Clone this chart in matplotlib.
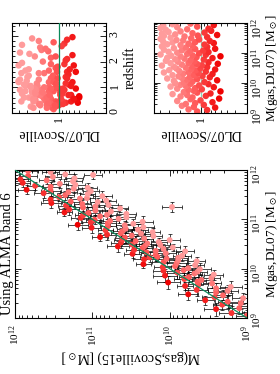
import matplotlib
matplotlib.use("Agg")
import matplotlib.pyplot as plt
import numpy as np
from matplotlib.colors import LinearSegmentedColormap
from matplotlib.ticker import MultipleLocator, NullFormatter

plt.rcParams['font.family'] = ['Liberation Serif', 'DejaVu Serif']
plt.rcParams['mathtext.fontset'] = 'stix'

# log10 M(gas, DL07) per galaxy
log_m_dl07 = [
    9.05, 9.10, 9.12, 9.18, 9.20, 9.24,
    9.27, 9.30, 9.33, 9.36, 9.40, 9.42, 9.46, 9.48,
    9.52, 9.55, 9.57, 9.60, 9.63, 9.65, 9.68, 9.70, 9.72, 9.74,
    9.77, 9.79, 9.81, 9.83, 9.86, 9.88, 9.90, 9.92, 9.94, 9.96, 9.97, 9.99,
    10.01, 10.03, 10.05, 10.07, 10.09, 10.11, 10.13, 10.15, 10.17, 10.19, 10.20, 10.22, 10.23, 10.24,
    10.26, 10.28, 10.30, 10.31, 10.33, 10.35, 10.36, 10.38, 10.40, 10.42, 10.43, 10.45, 10.46, 10.48, 10.49,
    10.51, 10.53, 10.54, 10.56, 10.58, 10.59, 10.61, 10.63, 10.64, 10.66, 10.67, 10.69, 10.71, 10.72, 10.74,
    10.76, 10.78, 10.79, 10.81, 10.83, 10.84, 10.86, 10.88, 10.89, 10.91, 10.92, 10.94, 10.95, 10.97, 10.99,
    11.01, 11.03, 11.04, 11.06, 11.08, 11.09, 11.11, 11.13, 11.14, 11.16, 11.18, 11.20, 11.22, 11.24,
    11.26, 11.28, 11.29, 11.31, 11.33, 11.35, 11.36, 11.38, 11.40, 11.42, 11.43, 11.45, 11.47, 11.49,
    11.51, 11.53, 11.55, 11.57, 11.58, 11.60, 11.62, 11.64, 11.66, 11.68, 11.70, 11.72, 11.74,
    11.77, 11.79, 11.81, 11.83, 11.86, 11.88, 11.91, 11.93, 11.96, 11.98,
    11.90, 11.25,
]

# log10 (DL07 / Scoville)
log_ratio = [
    0.05, -0.10, 0.18, -0.22, 0.10, 0.28,
    -0.05, 0.22, 0.08, -0.18, 0.35, 0.00, 0.15, -0.28,
    0.12, 0.30, -0.08, 0.20, 0.42, -0.15, 0.05, 0.25, -0.30, 0.10,
    0.18, -0.02, 0.35, 0.08, -0.20, 0.45, 0.22, 0.02, 0.30, -0.12, 0.15, 0.38,
    0.25, -0.06, 0.12, 0.40, -0.25, 0.20, 0.05, 0.50, 0.28, -0.14, 0.16, 0.33, -0.03, 0.08,
    0.42, 0.10, -0.18, 0.26, 0.03, 0.55, 0.18, -0.08, 0.32, 0.07, 0.47, -0.22, 0.14, 0.36, 0.00,
    0.22, -0.10, 0.40, 0.12, 0.58, -0.02, 0.28, 0.05, -0.26, 0.45, 0.18, -0.12, 0.34, 0.09, 0.52,
    0.15, -0.05, 0.38, 0.24, -0.18, 0.50, 0.06, 0.30, -0.30, 0.44, 0.12, -0.08, 0.60, 0.20, 0.02,
    0.35, -0.12, 0.48, 0.16, -0.04, 0.28, 0.55, 0.08, -0.22, 0.40, 0.22, -0.10, 0.58, 0.12,
    0.30, -0.06, 0.50, 0.18, -0.20, 0.42, 0.08, 0.56, -0.14, 0.26, 0.36, 0.02, 0.60, 0.14,
    0.45, -0.10, 0.24, 0.55, 0.04, -0.25, 0.38, 0.58, 0.12, -0.06, 0.48, 0.30, -0.16,
    0.52, 0.20, -0.12, 0.60, 0.35, 0.05, 0.56, -0.20, 0.42, 0.15,
    0.91, 1.28,
]

redshift = [
    0.25, 0.40, 0.30, 0.55, 0.20, 0.35,
    0.45, 0.60, 0.15, 0.70, 0.50, 0.30, 0.85, 0.40,
    0.55, 0.35, 0.90, 0.65, 0.25, 1.10, 0.45, 0.75, 0.60, 1.30,
    0.50, 0.80, 0.95, 0.30, 1.20, 0.60, 1.55, 0.40, 0.70, 2.10, 1.00, 0.20,
    0.65, 0.35, 1.35, 0.80, 0.95, 0.50, 1.75, 1.05, 0.30, 0.70, 2.40, 1.15, 0.55, 0.85,
    0.60, 1.25, 0.45, 0.90, 1.60, 0.75, 0.40, 2.70, 1.05, 0.25, 1.40, 1.85, 0.65, 2.20, 0.95,
    0.55, 1.15, 0.85, 0.35, 1.30, 0.70, 2.55, 1.00, 0.50, 1.70, 0.20, 2.85, 0.90, 1.45, 0.60,
    1.20, 0.75, 0.45, 2.00, 1.05, 0.85, 0.30, 1.55, 0.65, 2.30, 0.95, 1.90, 1.25, 0.50, 1.35,
    0.80, 1.60, 1.10, 0.40, 2.60, 0.70, 1.95, 1.20, 0.55, 2.90, 1.00, 1.40, 0.90, 2.15,
    1.30, 0.85, 1.65, 0.60, 2.25, 1.05, 2.75, 0.45, 1.50, 2.45, 0.95, 1.80, 1.20, 0.70,
    1.45, 2.05, 0.80, 2.65, 1.15, 1.60, 0.55, 2.35, 1.90, 0.95, 1.25, 2.80, 1.70,
    1.10, 2.50, 1.35, 1.85, 0.75, 2.20, 1.55, 2.95, 1.00, 1.65,
    1.00, 0.60,
]

# errors in dex
err_dl07 = [
    0.12, 0.14, 0.10, 0.13, 0.11, 0.12,
    0.10, 0.12, 0.13, 0.09, 0.11, 0.14, 0.10, 0.12,
    0.09, 0.11, 0.13, 0.10, 0.12, 0.08, 0.11, 0.10, 0.13, 0.09,
    0.10, 0.12, 0.09, 0.11, 0.13, 0.10, 0.08, 0.12, 0.10, 0.11, 0.09, 0.12,
    0.11, 0.09, 0.12, 0.10, 0.08, 0.11, 0.13, 0.09, 0.10, 0.12, 0.09, 0.11, 0.10, 0.08,
    0.10, 0.12, 0.09, 0.11, 0.08, 0.10, 0.12, 0.09, 0.11, 0.10, 0.08, 0.12, 0.09, 0.10, 0.11,
    0.09, 0.11, 0.08, 0.10, 0.12, 0.09, 0.10, 0.11, 0.08, 0.09, 0.12, 0.10, 0.09, 0.11, 0.08,
    0.10, 0.08, 0.11, 0.09, 0.10, 0.12, 0.08, 0.09, 0.11, 0.10, 0.08, 0.09, 0.11, 0.10, 0.09,
    0.08, 0.10, 0.09, 0.11, 0.08, 0.09, 0.10, 0.12, 0.08, 0.09, 0.10, 0.11, 0.08, 0.09,
    0.09, 0.08, 0.10, 0.09, 0.11, 0.08, 0.09, 0.10, 0.08, 0.11, 0.09, 0.08, 0.10, 0.09,
    0.08, 0.10, 0.09, 0.08, 0.11, 0.09, 0.08, 0.10, 0.09, 0.08, 0.10, 0.09, 0.08,
    0.09, 0.08, 0.10, 0.09, 0.08, 0.10, 0.09, 0.08, 0.09, 0.10,
    0.09, 0.10,
]

err_sco = [
    0.14, 0.16, 0.12, 0.15, 0.13, 0.14,
    0.12, 0.15, 0.13, 0.11, 0.14, 0.16, 0.12, 0.13,
    0.11, 0.13, 0.15, 0.12, 0.14, 0.10, 0.13, 0.12, 0.15, 0.11,
    0.12, 0.14, 0.11, 0.13, 0.15, 0.12, 0.10, 0.14, 0.12, 0.13, 0.11, 0.14,
    0.13, 0.11, 0.14, 0.12, 0.10, 0.13, 0.15, 0.11, 0.12, 0.14, 0.11, 0.13, 0.12, 0.10,
    0.12, 0.14, 0.11, 0.13, 0.10, 0.12, 0.14, 0.11, 0.13, 0.12, 0.10, 0.14, 0.11, 0.12, 0.13,
    0.11, 0.13, 0.10, 0.12, 0.14, 0.11, 0.12, 0.13, 0.10, 0.11, 0.14, 0.12, 0.11, 0.13, 0.10,
    0.12, 0.10, 0.13, 0.11, 0.12, 0.14, 0.10, 0.11, 0.13, 0.12, 0.10, 0.11, 0.13, 0.12, 0.11,
    0.10, 0.12, 0.11, 0.13, 0.10, 0.11, 0.12, 0.14, 0.10, 0.11, 0.12, 0.13, 0.10, 0.11,
    0.11, 0.10, 0.12, 0.11, 0.13, 0.10, 0.11, 0.12, 0.10, 0.13, 0.11, 0.10, 0.12, 0.11,
    0.10, 0.12, 0.11, 0.10, 0.13, 0.11, 0.10, 0.12, 0.11, 0.10, 0.12, 0.11, 0.10,
    0.11, 0.10, 0.12, 0.11, 0.10, 0.12, 0.11, 0.10, 0.11, 0.12,
    0.12, 0.13,
]

title = "Using ALMA band 6"
xlab_sco = r"M(gas,Scoville15) [M$_\odot$]"
lab_dl07 = r"M(gas,DL07) [M$_\odot$]"
lab_ratio = "DL07/Scoville"

lm = np.array(log_m_dl07)
lr = np.array(log_ratio)
m_dl = 10 ** lm
m_sco = 10 ** (lm - lr)
ratio = 10 ** lr
e_dl = np.array(err_dl07)
e_sc = np.array(err_sco)

cmap = LinearSegmentedColormap.from_list("pinks", ["#ee0000", "#ff5a5a", "#ff9c9c"])
green = "#0a8a5a"

# the page is shown turned sideways, so the axes are laid out rotated
fig = plt.figure(figsize=(2.8, 3.74), dpi=100)

def style(ax, size=8.5, xpad=2):
    ax.tick_params(which="both", direction="in", top=True, bottom=True, left=True, right=True,
                   labelleft=False, labeltop=False, labelright=True, labelbottom=True,
                   labelsize=size, width=0.6, colors="k", pad=2)
    ax.tick_params(which="major", length=4)
    ax.tick_params(which="minor", length=2)
    ax.tick_params(axis="x", labelrotation=90, pad=xpad)
    ax.tick_params(axis="y", labelrotation=90)
    for s in ax.spines.values():
        s.set_linewidth(0.8)

# big panel
ax = fig.add_axes([15 / 280, 56 / 374, 232 / 280, 148 / 374])
xlo = m_sco - m_sco * 10 ** (-e_sc)
xhi = m_sco * 10 ** e_sc - m_sco
ylo = m_dl - m_dl * 10 ** (-e_dl)
yhi = m_dl * 10 ** e_dl - m_dl
ax.errorbar(m_sco, m_dl, xerr=[xlo, xhi], yerr=[ylo, yhi], fmt="none", ecolor="k",
            elinewidth=0.5, capsize=1.5, capthick=0.5, zorder=1)
ax.scatter(m_sco, m_dl, c=lr, cmap=cmap, vmin=-0.3, vmax=0.45, s=18, linewidths=0, zorder=2)
ax.plot([1e9, 1e12], [1e9, 1e12], color=green, lw=0.9, zorder=3)
ax.set_xscale("log")
ax.set_yscale("log")
ax.set_xlim(1e12, 1e9)
ax.set_ylim(1e9, 1e12)
style(ax, size=8, xpad=5)
ax.set_xlabel(xlab_sco, rotation=180, fontsize=10, labelpad=2)
ax.yaxis.set_label_position("right")
ax.set_ylabel(lab_dl07, rotation=90, fontsize=9.5, labelpad=0)
fig.text(0.004, 59 / 374, title, rotation=90, ha="left", va="bottom", fontsize=10.5)

# ratio vs redshift
ax2 = fig.add_axes([12 / 280, 261 / 374, 94 / 280, 90 / 374])
ax2.scatter(ratio, redshift, c=lr, cmap=cmap, vmin=-0.3, vmax=0.45, s=22, linewidths=0, zorder=2)
ax2.axvline(1, color=green, lw=0.9, zorder=3)
ax2.set_xscale("log")
ax2.set_xlim(5, 0.2)
ax2.set_ylim(0, 3.5)
ax2.set_xticks([1], ["1"])
ax2.xaxis.set_minor_formatter(NullFormatter())
ax2.yaxis.set_major_locator(MultipleLocator(1))
ax2.yaxis.set_minor_locator(MultipleLocator(0.2))
style(ax2)
ax2.set_xlabel(lab_ratio, rotation=180, fontsize=10, labelpad=4)
ax2.yaxis.set_label_position("right")
ax2.set_ylabel("redshift", rotation=90, fontsize=10, labelpad=2)

# ratio vs mass
ax3 = fig.add_axes([154 / 280, 261 / 374, 93 / 280, 90 / 374])
ax3.axvline(1, color="#86d9b8", lw=0.9, zorder=1)
ax3.scatter(ratio, m_dl, c=lr, cmap=cmap, vmin=-0.3, vmax=0.45, s=22, linewidths=0, zorder=2)
ax3.set_xscale("log")
ax3.set_yscale("log")
ax3.set_xlim(5, 0.2)
ax3.set_ylim(1e9, 1e12)
ax3.set_xticks([1], ["1"])
ax3.xaxis.set_minor_formatter(NullFormatter())
style(ax3)
ax3.set_xlabel(lab_ratio, rotation=180, fontsize=10, labelpad=4)
ax3.yaxis.set_label_position("right")
ax3.set_ylabel(lab_dl07, rotation=90, fontsize=9.5, labelpad=0)

fig.savefig("out.png", dpi=100)
